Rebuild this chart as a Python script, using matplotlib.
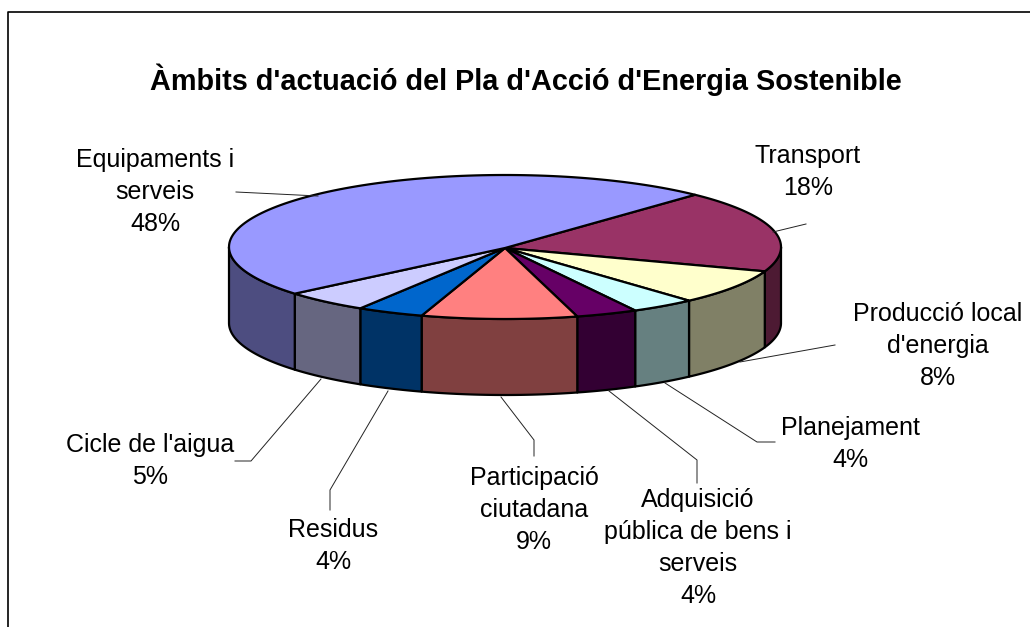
import numpy as np
import matplotlib
matplotlib.use('Agg')
import matplotlib.pyplot as plt
from matplotlib.patches import Polygon

plt.rcParams['font.family'] = ['Liberation Sans', 'DejaVu Sans']

# ── Data ──────────────────────────────────────────────────────────────
labels = ['Transport', "Producció local\nd'energia", 'Planejament',
          'Adquisició\npública de bens i\nserveis', 'Participació\nciutadana',
          'Residus', "Cicle de l'aigua", 'Equipaments i\nserveis']
# the printed labels round these
values = [18.4, 7.9, 3.8, 3.6, 9.1, 3.9, 5.0, 48.3]
top_colors = ['#993366', '#FFFFCC', '#CCFFFF', '#660066',
              '#FF8080', '#0066CC', '#CCCCFF', '#9999FF']
side_colors = ['#4D1A33', '#808066', '#668080', '#330033',
               '#804040', '#003366', '#666680', '#4D4D80']
title = "Àmbits d'actuació del Pla d'Acció d'Energia Sostenible"

# label centres and leader lines, in pixels of the picture
label_pos = [(808, 172), (938, 346), (850, 444), (698, 548),
             (534, 510), (333, 546), (150, 461), (155, 192)]
leaders = [[(773, 232), (806, 224)],
           [(740, 362), (835, 345)],
           [(665, 383), (757, 442), (775, 442)],
           [(609, 391), (697, 460), (697, 483)],
           [(501, 397), (534, 440), (534, 456)],
           [(388, 391), (330, 490), (330, 510)],
           [(321, 379), (251, 461), (235, 461)],
           [(236, 192), (318, 196)]]

# pie geometry
cx, cy = 505, 247
rx, ry = 276, 72
depth = 76
start_angle = 46.5

def rim(t):
    t = np.radians(t)
    return np.column_stack([cx + rx * np.cos(t), cy - ry * np.sin(t)])

fig = plt.figure(figsize=(10.3, 6.27), dpi=100)
ax = fig.add_axes([0, 0, 1, 1])
ax.set_xlim(0, 1030)
ax.set_ylim(627, 0)
ax.axis('off')

# chart frame runs off the right and bottom of the picture
ax.plot([8, 8, 1030], [627, 12, 12], color='black', lw=1.2)

# ── Slices ────────────────────────────────────────────────────────────
edges = start_angle - np.cumsum([0] + values) * 3.6

# side walls, only the part facing the viewer
for i in range(len(values)):
    a, b = max(edges[i + 1], -180), min(edges[i], 0)
    if a >= b:
        continue
    arc = rim(np.linspace(a, b, 60))
    wall = np.vstack([arc, (arc + [0, depth])[::-1]])
    ax.add_patch(Polygon(wall, closed=True, facecolor=side_colors[i],
                         edgecolor='black', lw=1.6, joinstyle='round'))

# top faces
for i in range(len(values)):
    arc = rim(np.linspace(edges[i + 1], edges[i], 120))
    face = np.vstack([[cx, cy + 1], arc])
    ax.add_patch(Polygon(face, closed=True, facecolor=top_colors[i],
                         edgecolor='black', lw=1.6, joinstyle='round'))

# ── Labels ────────────────────────────────────────────────────────────
for line in leaders:
    xs, ys = zip(*line)
    ax.plot(xs, ys, color='#222222', lw=0.7)

for lab, val, (x, y) in zip(labels, values, label_pos):
    ax.text(x, y, f'{lab}\n{val:.0f}%', ha='center', va='center',
            fontsize=18, linespacing=1.41, color='black')

ax.text(526, 80, title, ha='center', va='center', fontsize=20.8,
        fontweight='bold', color='black')

plt.savefig('out.png', dpi=100)
plt.close()
